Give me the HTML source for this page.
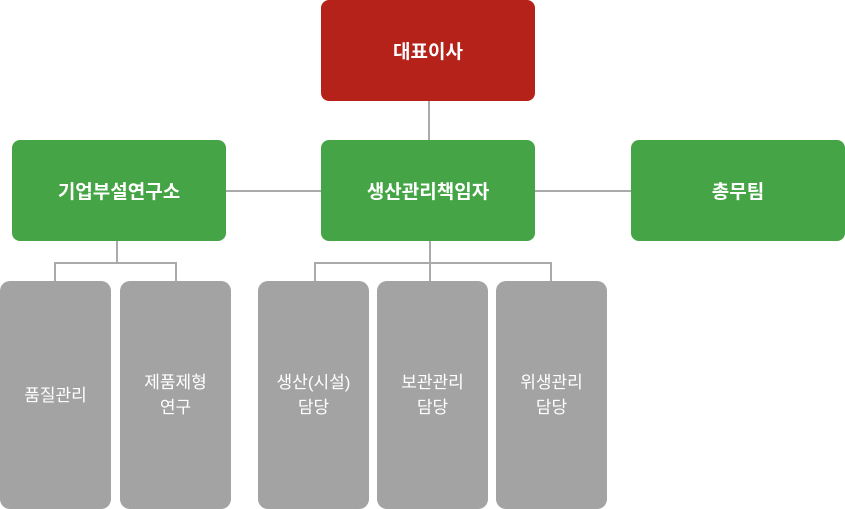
<!DOCTYPE html>
<html><head><meta charset="utf-8"><style>
html,body{margin:0;padding:0;background:#fff;width:845px;height:509px;overflow:hidden;position:relative;font-family:"Liberation Sans","Noto Sans CJK KR",sans-serif}
.b{position:absolute;display:flex;align-items:center;justify-content:center;text-align:center;color:#fff;border-radius:8px}
.r{background:#b52219;font-size:19px;font-weight:bold}
.g{background:#45a546;font-size:19px;font-weight:bold}
.y{background:#a3a3a3;font-size:17px;line-height:25px;border-radius:10px}
.l{position:absolute;background:#aaa}
</style></head><body>
<div class="l" style="left:428px;top:101px;width:2px;height:40px"></div>
<div class="l" style="left:226px;top:190px;width:96px;height:2px"></div>
<div class="l" style="left:535px;top:190px;width:96px;height:2px"></div>
<div class="l" style="left:116px;top:241px;width:2px;height:22px"></div>
<div class="l" style="left:54px;top:262px;width:123px;height:2px"></div>
<div class="l" style="left:54px;top:262px;width:2px;height:20px"></div>
<div class="l" style="left:175px;top:262px;width:2px;height:20px"></div>
<div class="l" style="left:429px;top:241px;width:2px;height:41px"></div>
<div class="l" style="left:314px;top:262px;width:238px;height:2px"></div>
<div class="l" style="left:314px;top:262px;width:2px;height:20px"></div>
<div class="l" style="left:550px;top:262px;width:2px;height:20px"></div>
<div class="b r" style="left:321px;top:0;width:214px;height:101px">대표이사</div>
<div class="b g" style="left:12px;top:140px;width:214px;height:101px">기업부설연구소</div>
<div class="b g" style="left:321px;top:140px;width:214px;height:101px">생산관리책임자</div>
<div class="b g" style="left:631px;top:140px;width:214px;height:101px">총무팀</div>
<div class="b y" style="left:0;top:281px;width:111px;height:228px">품질관리</div>
<div class="b y" style="left:120px;top:281px;width:111px;height:228px">제품제형<br>연구</div>
<div class="b y" style="left:258px;top:281px;width:111px;height:228px">생산(시설)<br>담당</div>
<div class="b y" style="left:377px;top:281px;width:111px;height:228px">보관관리<br>담당</div>
<div class="b y" style="left:496px;top:281px;width:111px;height:228px">위생관리<br>담당</div>
</body></html>
